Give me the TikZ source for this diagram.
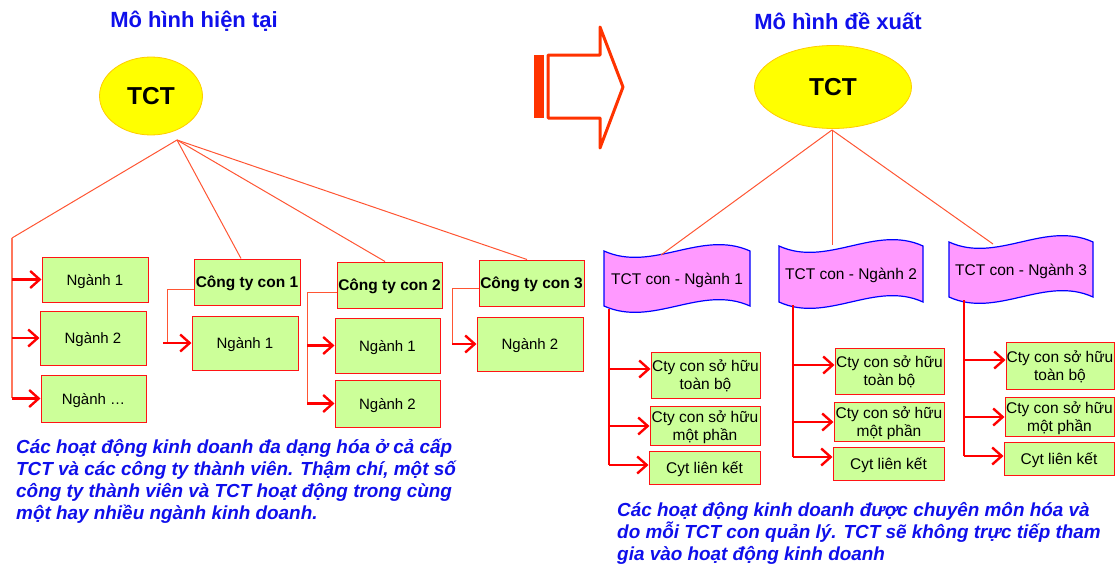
\documentclass[tikz,border=0pt]{standalone}
\usepackage{fontspec}
\setmainfont{Liberation Sans}
\usetikzlibrary{arrows.meta,shapes.geometric,calc}
\definecolor{tblue}{RGB}{15,15,235}
\definecolor{lgreen}{RGB}{204,255,153}
\definecolor{bred}{RGB}{255,20,20}
\definecolor{lorange}{RGB}{255,85,51}
\definecolor{pinkm}{RGB}{255,153,255}
\definecolor{fblue}{RGB}{30,30,230}
\definecolor{arrowred}{RGB}{255,51,0}
\definecolor{ylw}{RGB}{255,255,0}
\definecolor{ylwb}{RGB}{255,204,0}
\tikzset{
  gbox/.style={draw=bred, fill=lgreen, line width=1pt, inner sep=0pt, align=center,
    text depth=0pt, font=\fontsize{15}{18}\selectfont},
  cbox/.style={gbox, font=\bfseries\fontsize{15.5}{18}\selectfont},
  rbox/.style={gbox, font=\fontsize{15.5}{18}\selectfont},
  thinl/.style={draw=lorange, line width=1pt},
  vline/.style={draw=lorange!80, line width=1.8pt},
  rvline/.style={draw=red, line width=1.3pt},
  arr/.style={draw=red, line width=2.4pt, -{Straight Barb[length=9.5pt,width=17pt]}},
  tctell/.style={ellipse, draw=ylwb, fill=ylw, line width=0.8pt, text depth=0pt, font=\bfseries\fontsize{24.5}{28}\selectfont},
  flagshape/.style={draw=blue, fill=pinkm, line width=1.2pt},
  flagtext/.style={font=\fontsize{15.5}{18}\selectfont, inner sep=0pt, text depth=0pt},
  ttl/.style={text=tblue, font=\bfseries\fontsize{22}{26}\selectfont},
  note/.style={text=tblue, align=left, anchor=north west, inner sep=0pt,
    font=\bfseries\itshape\fontsize{18.9}{21.9}\selectfont},
  bigarrow/.style={draw=arrowred, line width=3pt, line join=round},
}
\newcommand{\wflag}[6]{%
  % #1 x0, #2 x1, #3 ytop, #4 ybot, #5 name, #6 text
  \pgfmathsetmacro{\wa}{#1+(#2-#1)/3}\pgfmathsetmacro{\wb}{#1+2*(#2-#1)/3}%
  \draw[flagshape] (#1,#3) .. controls (\wa,#3+22) and (\wb,#3-22) .. (#2,#3)
    -- (#2,#4) .. controls (\wb,#4-22) and (\wa,#4+22) .. (#1,#4) -- cycle;
  \node[flagtext] (#5) at ({(#1+#2)/2},{(#3+#4)/2}) {#6};
}
\begin{document}
\begin{tikzpicture}[x=1pt,y=-1pt]
\useasboundingbox (0,0) rectangle (1117,570);

% titles
\node[ttl] (t1) at (194,21) {Mô hình hiện tại};
\node[ttl] (t2) at (838,21) {Mô hình đề xuất};

% ===== left model =====
\node[tctell, minimum width=103, minimum height=78] (tctL) at (151,96) {TCT};
\coordinate (apexL) at (177,140);

\node[gbox, minimum width=106, minimum height=45] (L1) at (95,279.5) {Ngành 1};
\node[gbox, minimum width=106, minimum height=54] (L2) at (93,338) {Ngành 2};
\node[gbox, minimum width=105, minimum height=47] (L3) at (93.5,398.5) {Ngành …};

\node[cbox, minimum width=106, minimum height=46] (C1) at (247,282) {Công ty con 1};
\node[gbox, minimum width=106, minimum height=54] (C1a) at (245,343) {Ngành 1};
\node[cbox, minimum width=105, minimum height=46] (C2) at (389.5,285) {Công ty con 2};
\node[gbox, minimum width=105, minimum height=55] (C2a) at (387.5,345.5) {Ngành 1};
\node[gbox, minimum width=105, minimum height=47] (C2b) at (387.5,403.5) {Ngành 2};
\node[cbox, minimum width=105, minimum height=46] (C3) at (531.5,283) {Công ty con 3};
\node[gbox, minimum width=106, minimum height=54] (C3a) at (530,344) {Ngành 2};

\coordinate (lvTop) at (12,238);
\coordinate (lvBot) at (12,398);
\draw[thinl] (apexL) -- (lvTop);
\draw[vline] (lvTop) -- (lvBot);
\draw[thinl] (apexL) -- ($(C1.north)+(-6,0)$);
\draw[thinl] (apexL) -- ($(C2.north)+(-4.5,0)$);
\draw[thinl] (apexL) -- ($(C3.north)+(-4.5,0)$);
\draw[arr] (lvTop |- L1.west) -- (L1.west);
\draw[arr] (lvTop |- L2.west) -- (L2.west);
\draw[arr] (lvTop |- L3.west) -- (L3.west);

\coordinate (c1k) at (167,289);
\draw[thinl] ($(C1.west)+(0,7)$) -- (c1k) -- (c1k |- C1a.west);
\draw[arr] ([xshift=-4pt]c1k |- C1a.west) -- (C1a.west);

\coordinate (c2k) at (307,292);
\draw[thinl] ($(C2.west)+(0,7)$) -- (c2k) -- (c2k |- C2b.west);
\draw[arr] (c2k |- C2a.west) -- (C2a.west);
\draw[arr] (c2k |- C2b.west) -- (C2b.west);

\coordinate (c3k) at (452,288);
\draw[thinl] ($(C3.west)+(0,5)$) -- (c3k) -- (c3k |- C3a.west);
\draw[arr] (c3k |- C3a.west) -- (C3a.west);

\node[note] (noteL) at (16,439) {Các hoạt động kinh doanh đa dạng hóa ở cả cấp\\
TCT và các công ty thành viên. Thậm chí, một số\\
công ty thành viên và TCT hoạt động trong cùng\\
một hay nhiều ngành kinh doanh.};

% ===== big arrow =====
\fill[arrowred] (534,55) rectangle (543.5,118);
\draw[bigarrow] (548,55) -- (600,55) -- (600,27) -- (623,87) -- (600,148) -- (600,118) -- (548,118) -- cycle;

% ===== right model =====
\node[tctell, minimum width=157, minimum height=83] (tctR) at (833,87) {TCT};
\coordinate (apexR) at (832,130);

\wflag{604}{750}{251}{306}{F1}{TCT con - Ngành 1}
\wflag{779}{923}{246}{302}{F2}{TCT con - Ngành 2}
\wflag{949}{1093}{242}{297}{F3}{TCT con - Ngành 3}

\coordinate (f1t) at (661,255);
\coordinate (f2t) at (832,245);
\coordinate (f3t) at (993,244);
\draw[thinl] (apexR) -- (f1t);
\draw[thinl] (apexR) -- (f2t);
\draw[thinl] (apexR) -- (f3t);

\node[rbox, minimum width=109, minimum height=46] (R1a) at (705.5,375) {Cty con sở hữu\\toàn bộ};
\node[rbox, minimum width=110, minimum height=39] (R1b) at (705,425.5) {Cty con sở hữu\\một phần};
\node[rbox, minimum width=111, minimum height=33] (R1c) at (704.5,467.5) {Cyt liên kết};
\node[rbox, minimum width=109, minimum height=46] (R2a) at (889.5,371) {Cty con sở hữu\\toàn bộ};
\node[rbox, minimum width=110, minimum height=39] (R2b) at (889,421.5) {Cty con sở hữu\\một phần};
\node[rbox, minimum width=111, minimum height=33] (R2c) at (888.5,463.5) {Cyt liên kết};
\node[rbox, minimum width=108, minimum height=47] (R3a) at (1060,365.5) {Cty con sở hữu\\toàn bộ};
\node[rbox, minimum width=109, minimum height=39] (R3b) at (1059.5,416.5) {Cty con sở hữu\\một phần};
\node[rbox, minimum width=110, minimum height=33] (R3c) at (1059,458.5) {Cyt liên kết};

% column 1
\coordinate (v1t) at (609,309);
\coordinate (b1a) at (609,369);
\coordinate (b1b) at (609,426);
\coordinate (b1c) at (609,465);
\draw[rvline] (v1t) -- (b1c);
\draw[arr] (b1a) -- (b1a -| R1a.west);
\draw[arr] (b1b) -- (b1b -| R1b.west);
\draw[arr] (b1c) -- (b1c -| R1c.west);
% column 2
\coordinate (v2t) at (793,305);
\coordinate (b2a) at (793,365);
\coordinate (b2b) at (793,422);
\coordinate (b2c) at (793,457);
\draw[rvline] (v2t) -- (b2c);
\draw[arr] (b2a) -- (b2a -| R2a.west);
\draw[arr] (b2b) -- (b2b -| R2b.west);
\draw[arr] (b2c) -- (b2c -| R2c.west);
% column 3
\coordinate (v3t) at (964,300);
\coordinate (b3a) at (964,360);
\coordinate (b3b) at (964,417);
\coordinate (b3c) at (964,456);
\draw[rvline] (v3t) -- (b3c);
\draw[arr] (b3a) -- (b3a -| R3a.west);
\draw[arr] (b3b) -- (b3b -| R3b.west);
\draw[arr] (b3c) -- (b3c -| R3c.west);

\node[note] (noteR) at (617,502) {Các hoạt động kinh doanh được chuyên môn hóa và\\
do mỗi TCT con quản lý. TCT sẽ không trực tiếp tham\\
gia vào hoạt động kinh doanh};
\end{tikzpicture}
\end{document}
